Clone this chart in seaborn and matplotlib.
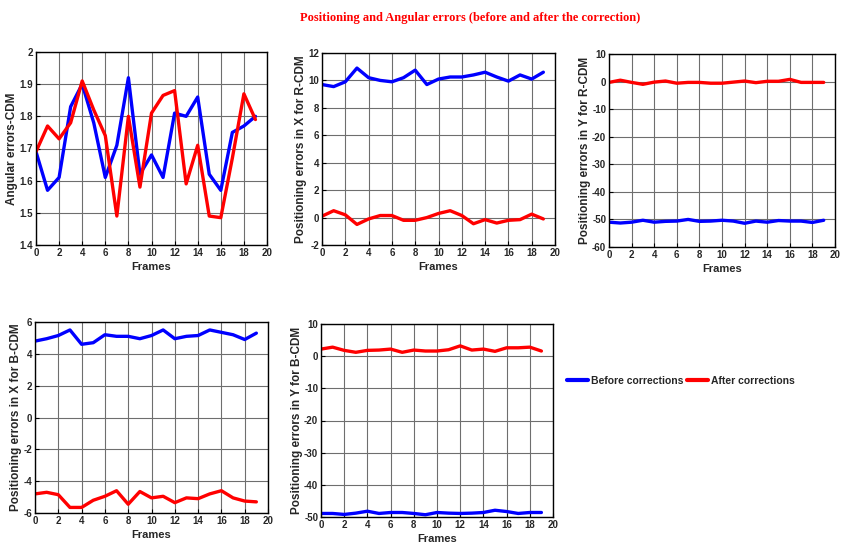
import numpy as np
import pandas as pd
import matplotlib
matplotlib.use("Agg")
import matplotlib.pyplot as plt
import seaborn as sns

frames = list(range(20))

angular_before = [1.69, 1.57, 1.61, 1.83, 1.90, 1.78, 1.61, 1.71, 1.92, 1.62,
                  1.68, 1.61, 1.81, 1.80, 1.86, 1.62, 1.57, 1.75, 1.77, 1.80]
angular_after = [1.69, 1.77, 1.73, 1.78, 1.91, 1.82, 1.74, 1.49, 1.80, 1.58,
                 1.81, 1.865, 1.88, 1.59, 1.71, 1.49, 1.485, 1.67, 1.87, 1.79]

x_rcdm_before = [9.7, 9.55, 9.9, 10.9, 10.2, 10.0, 9.9, 10.2, 10.75, 9.7,
                 10.1, 10.25, 10.25, 10.4, 10.6, 10.25, 9.95, 10.4, 10.1, 10.6]
x_rcdm_after = [0.1, 0.5, 0.2, -0.5, -0.1, 0.15, 0.15, -0.2, -0.2, 0.0,
                0.3, 0.5, 0.15, -0.45, -0.15, -0.4, -0.2, -0.15, 0.25, -0.1]

y_rcdm_before = [-51.0, -51.3, -51.0, -50.3, -51.0, -50.7, -50.6, -50.0, -50.7, -50.6,
                 -50.3, -50.6, -51.4, -50.6, -51.0, -50.4, -50.6, -50.6, -51.1, -50.3]
y_rcdm_after = [-0.3, 0.5, -0.3, -1.0, -0.2, 0.2, -0.6, -0.3, -0.3, -0.6,
                -0.6, -0.2, 0.2, -0.4, 0.1, 0.1, 0.8, -0.3, -0.3, -0.3]

x_bcdm_before = [4.8, 4.95, 5.15, 5.5, 4.6, 4.7, 5.2, 5.1, 5.1, 4.95,
                 5.15, 5.5, 4.95, 5.1, 5.15, 5.5, 5.35, 5.2, 4.9, 5.3]
x_bcdm_after = [-4.8, -4.7, -4.85, -5.65, -5.65, -5.2, -4.95, -4.6, -5.45, -4.65,
                -5.05, -4.95, -5.35, -5.05, -5.1, -4.8, -4.6, -5.05, -5.25, -5.3]

y_bcdm_before = [-48.9, -48.9, -49.2, -48.8, -48.2, -48.9, -48.6, -48.6, -48.9, -49.3,
                 -48.6, -48.8, -48.9, -48.8, -48.6, -47.9, -48.3, -48.9, -48.6, -48.6]
y_bcdm_after = [2.2, 2.8, 1.8, 1.2, 1.8, 1.9, 2.2, 1.2, 1.9, 1.6,
                1.6, 2.0, 3.2, 1.9, 2.2, 1.5, 2.6, 2.6, 2.8, 1.6]

series_names = ["Before corrections", "After corrections"]
palette = {"Before corrections": "#0000ff", "After corrections": "#ff0000"}

sns.set_theme(style="ticks")
plt.rcParams["font.family"] = ["Liberation Sans", "DejaVu Sans"]
plt.rcParams["axes.unicode_minus"] = False

fig = plt.figure(figsize=(8.44, 5.51), dpi=100)
W, H = 844, 551


def add_axes(left, top, right, bottom):
    return fig.add_axes([left / W, 1 - bottom / H, (right - left) / W, (bottom - top) / H])


panels = [
    # (axes box, before, after, ylim, yticks, yticklabels, ylabel)
    ((36, 52, 267, 245), angular_before, angular_after, (1.4, 2.0),
     [1.4, 1.5, 1.6, 1.7, 1.8, 1.9, 2.0], ["1.4", "1.5", "1.6", "1.7", "1.8", "1.9", "2"],
     "Angular errors-CDM"),
    ((322, 53, 555, 245), x_rcdm_before, x_rcdm_after, (-2, 12),
     list(range(-2, 13, 2)), None, "Positioning errors in X for R-CDM"),
    ((609, 54, 835, 247), y_rcdm_before, y_rcdm_after, (-60, 10),
     list(range(-60, 11, 10)), None, "Positioning errors in Y for R-CDM"),
    ((35, 322, 268, 513), x_bcdm_before, x_bcdm_after, (-6, 6),
     list(range(-6, 7, 2)), None, "Positioning errors in X for B-CDM"),
    ((321, 324, 553, 517), y_bcdm_before, y_bcdm_after, (-50, 10),
     list(range(-50, 11, 10)), None, "Positioning errors in Y for B-CDM"),
]

tick_font = dict(family=["Liberation Sans Narrow", "Liberation Sans"], weight="bold", size=7)

for box, before, after, ylim, yticks, ylabels, ylabel in panels:
    ax = add_axes(*box)
    df = pd.DataFrame({
        "Frames": frames * 2,
        "value": before + after,
        "series": [series_names[0]] * len(before) + [series_names[1]] * len(after),
    })
    sns.lineplot(data=df, x="Frames", y="value", hue="series", palette=palette,
                 linewidth=2.4, ax=ax, legend=False)
    ax.set_xlim(0, 20)
    ax.set_ylim(*ylim)
    ax.set_xticks(range(0, 21, 2))
    ax.set_yticks(yticks)
    if ylabels is not None:
        ax.set_yticklabels(ylabels)
    ax.grid(True, color="#6e6e6e", linewidth=0.8)
    ax.tick_params(direction="in", length=3, width=0.8, color="black", pad=2)
    for lbl in ax.get_xticklabels() + ax.get_yticklabels():
        lbl.set_fontproperties(matplotlib.font_manager.FontProperties(**tick_font))
    for sp in ax.spines.values():
        sp.set_color("black")
        sp.set_linewidth(1.0)
    ax.set_xlabel("Frames", fontsize=8, fontweight="bold",
                  family=["Liberation Sans Narrow", "Liberation Sans"], labelpad=3)
    ax.set_ylabel(ylabel, fontsize=8.5, fontweight="bold", labelpad=1)

fig.text(0.557, 0.968, "Positioning and Angular errors (before and after the correction)",
         ha="center", va="center", color="#ff0000", fontsize=9, fontweight="bold",
         family=["Liberation Serif", "DejaVu Serif"])

handles = [plt.Line2D([], [], color=palette[n], linewidth=3) for n in series_names]
fig.legend(handles, series_names, loc="center left", bbox_to_anchor=(558 / W, 1 - 381 / H),
           ncol=2, frameon=False, handlelength=2.0, handletextpad=0.3, columnspacing=0.3,
           prop=dict(family=["Liberation Sans Narrow", "Liberation Sans"], weight="bold", size=7.5))

fig.savefig("out.png", dpi=100)
